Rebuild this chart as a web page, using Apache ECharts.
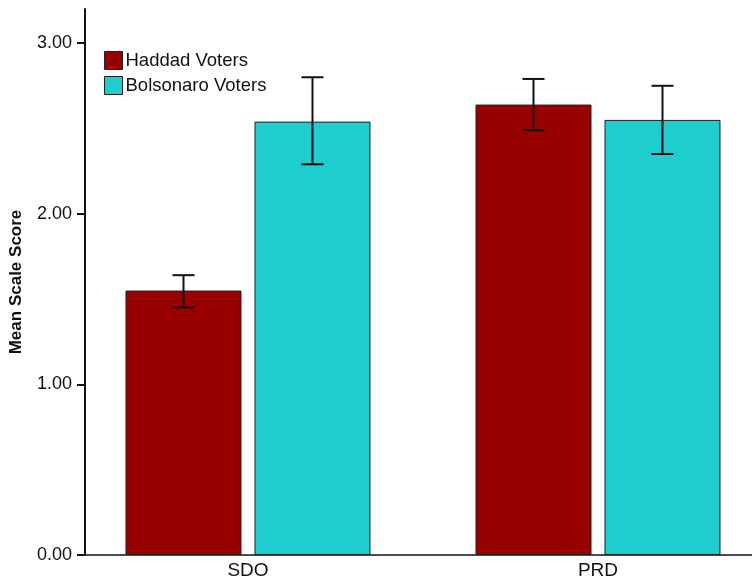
<!DOCTYPE html>
<html><head><meta charset="utf-8">
<script src="https://cdn.jsdelivr.net/npm/echarts@6/dist/echarts.min.js"></script>
<style>html,body{margin:0;padding:0;background:#fff}#c{width:752px;height:581px}</style>
</head><body><div id="c"></div>
<script>
const categories = ['SDO', 'PRD'];
const seriesNames = ['Haddad Voters', 'Bolsonaro Voters'];
const haddadMean = [1.55, 2.64];
const haddadLow = [1.45, 2.49];
const haddadHigh = [1.64, 2.79];
const bolsoMean = [2.54, 2.55];
const bolsoLow = [2.29, 2.35];
const bolsoHigh = [2.80, 2.75];
const yTicks = [0, 1, 2, 3];

const FONT = '"Liberation Sans", Arial, sans-serif';
const colors = ['#990000', '#1ecdcd'];
const BAR_W = 116, GAP = 13;
const half = (BAR_W + GAP) / 2;
const catIdx = categories.map((c, i) => i);

function errItem(shift) {
  return function (params, api) {
    const lo = api.coord([api.value(0), api.value(1)]);
    const hi = api.coord([api.value(0), api.value(2)]);
    const x = lo[0] + shift;
    const cw = 11;
    const st = { stroke: '#111', lineWidth: 2 };
    return { type: 'group', children: [
      { type: 'line', shape: { x1: x, y1: lo[1], x2: x, y2: hi[1] }, style: st },
      { type: 'line', shape: { x1: x - cw, y1: lo[1], x2: x + cw, y2: lo[1] }, style: st },
      { type: 'line', shape: { x1: x - cw, y1: hi[1], x2: x + cw, y2: hi[1] }, style: st }
    ]};
  };
}

const chart = echarts.init(document.getElementById('c'), null, { renderer: 'canvas' });
chart.setOption({
  animation: false,
  textStyle: { fontFamily: FONT },
  grid: { left: 85, right: 0, top: 9, bottom: 26 },
  legend: {
    data: seriesNames, orient: 'vertical', left: 104, top: 51, padding: 0,
    itemWidth: 18, itemHeight: 18, itemGap: 6, icon: 'rect',
    textStyle: { fontSize: 18.5, color: '#111', fontFamily: FONT, padding: [0, 0, 0, -2] },
    itemStyle: { borderColor: '#222', borderWidth: 1 }
  },
  xAxis: {
    type: 'value', min: -0.4657, max: 1.44,
    axisLine: { show: true, onZero: false, lineStyle: { color: '#111', width: 1.5 } },
    axisTick: { show: false }, splitLine: { show: false },
    axisLabel: { customValues: catIdx, fontSize: 19, color: '#111', margin: 6, fontFamily: FONT,
      formatter: v => categories[Math.round(v)] ?? '' }
  },
  yAxis: {
    type: 'value', min: 0, max: 3.2, interval: 1,
    name: 'Mean Scale Score', nameLocation: 'middle', nameGap: 60,
    nameTextStyle: { fontSize: 17, fontWeight: 'bold', color: '#111', fontFamily: FONT },
    axisLine: { show: true, onZero: false, lineStyle: { color: '#111', width: 2 } },
    axisTick: { show: true, length: 8, lineStyle: { color: '#111', width: 2 } },
    axisLabel: { fontSize: 18, color: '#111', margin: 13, fontFamily: FONT, showMaxLabel: false,
      formatter: v => yTicks.includes(v) ? v.toFixed(2) : '' },
    splitLine: { show: false }
  },
  series: [
    { name: seriesNames[0], type: 'bar', data: catIdx.map(i => [i, haddadMean[i]]),
      barWidth: BAR_W, barGap: (GAP / BAR_W * 100) + '%',
      itemStyle: { color: colors[0], borderColor: '#222', borderWidth: 1 } },
    { name: seriesNames[1], type: 'bar', data: catIdx.map(i => [i, bolsoMean[i]]),
      barWidth: BAR_W,
      itemStyle: { color: colors[1], borderColor: '#222', borderWidth: 1 } },
    { type: 'custom', z: 10,
      data: catIdx.map(i => [i, haddadLow[i], haddadHigh[i]]),
      renderItem: errItem(-half) },
    { type: 'custom', z: 10,
      data: catIdx.map(i => [i, bolsoLow[i], bolsoHigh[i]]),
      renderItem: errItem(half) }
  ]
});
</script></body></html>
